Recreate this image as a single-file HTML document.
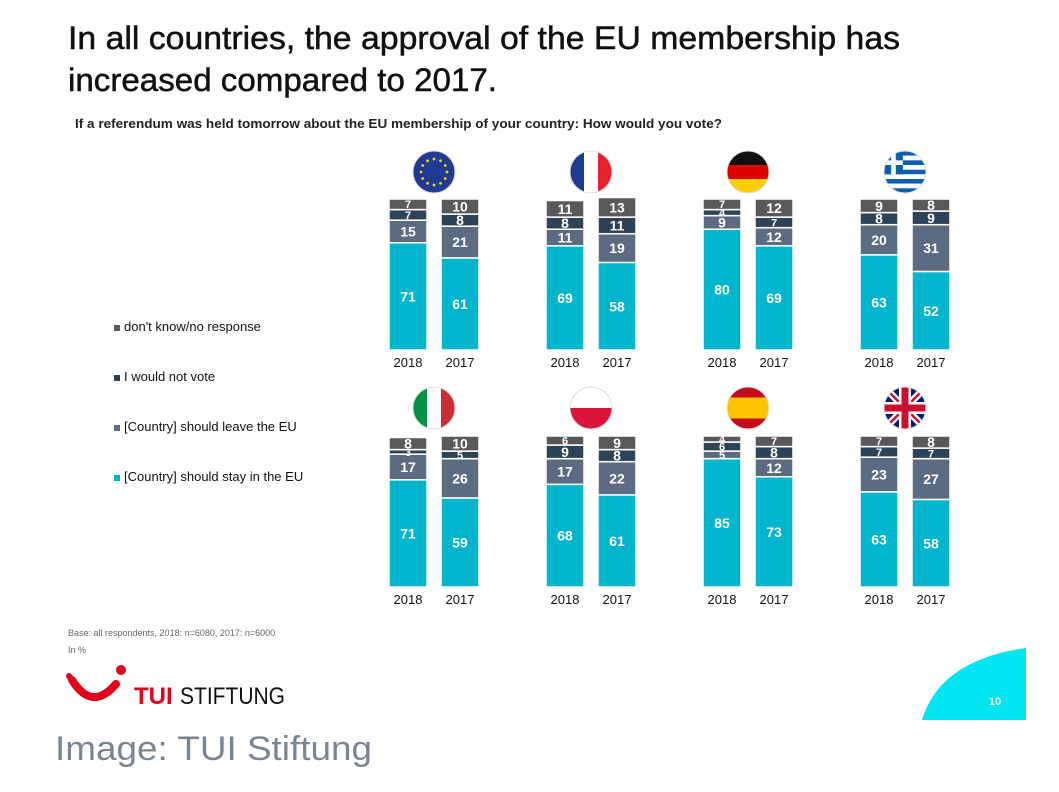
<!DOCTYPE html>
<html><head><meta charset="utf-8">
<style>
body{margin:0;background:#fff;width:1059px;height:792px;overflow:hidden;font-family:"Liberation Sans",sans-serif;}
svg{display:block}
</style></head>
<body>
<svg id="chart" width="1059" height="792" viewBox="0 0 1059 792">
<text x="68" y="49" font-size="32" fill="#111" textLength="832" lengthAdjust="spacingAndGlyphs" stroke="#111" stroke-width="0.5">In all countries, the approval of the EU membership has</text>
<text x="68" y="91" font-size="32" fill="#111" textLength="429" lengthAdjust="spacingAndGlyphs" stroke="#111" stroke-width="0.5">increased compared to 2017.</text>
<text x="75" y="128" font-size="12.5" font-weight="bold" fill="#222" textLength="647" lengthAdjust="spacingAndGlyphs">If a referendum was held tomorrow about the EU membership of your country: How would you vote?</text>
<g id="legend"></g>
<g id="bars"></g>
<g id="flags"></g>
<text x="68" y="636" font-size="9" fill="#666">Base: all respondents, 2018: n=6080, 2017: n=6000</text>
<text x="68" y="653" font-size="9" fill="#666">In %</text>
<g>
<path d="M72 680 Q92 712 116 684" stroke="#e2001a" stroke-width="8" fill="none" stroke-linecap="round"/>
<path d="M72 680 l-3 -4" stroke="#e2001a" stroke-width="6" fill="none" stroke-linecap="round"/>
<circle cx="121" cy="670" r="5" fill="#e2001a"/>
<text x="134" y="704" font-size="24" font-weight="bold" fill="#e2001a">TUI</text>
<text x="180" y="704" font-size="24" fill="#111" textLength="105" lengthAdjust="spacingAndGlyphs">STIFTUNG</text>
</g>
<path d="M922 720 Q940 660 1026 648 L1026 720 Z" fill="#00e5f0"/>
<text x="995" y="705" font-size="11" font-weight="bold" fill="#fff" text-anchor="middle">10</text>
<text x="55" y="760" font-size="34" fill="#7a8591" textLength="317" lengthAdjust="spacingAndGlyphs">Image: TUI Stiftung</text>
</svg>
<script>
const groups=["EU","France","Germany","Greece","Italy","Poland","Spain","UK"];
const years=["2018","2017"];
const series=["[Country] should stay in the EU","[Country] should leave the EU","I would not vote","don't know/no response"];
const stay2018=[71,69,80,63,71,68,85,63];
const stay2017=[61,58,69,52,59,61,73,58];
const leave2018=[15,11,9,20,17,17,5,23];
const leave2017=[21,19,12,31,26,22,12,27];
const novote2018=[7,8,4,8,3,9,6,7];
const novote2017=[8,11,7,9,5,8,8,7];
const dk2018=[7,11,7,9,8,6,4,7];
const dk2017=[10,13,12,8,10,9,7,8];
const colors=["#00b5cc","#5b6b81","#2d4357","#59595b"];
const NS="http://www.w3.org/2000/svg";
function mk(t,a,p){const e=document.createElementNS(NS,t);for(const k in a)e.setAttribute(k,a[k]);p.appendChild(e);return e;}
const scale=v=>v*1.51;
const bars=document.getElementById('bars');
const data=[[stay2018,leave2018,novote2018,dk2018],[stay2017,leave2017,novote2017,dk2017]];
groups.forEach((g,gi)=>{
  const col=gi%4,row=Math.floor(gi/4);
  const gx=389+col*157, base=row?587:350;
  years.forEach((yr,yi)=>{
    const x=gx+yi*52;let y=base;
    for(let s=0;s<4;s++){
      const v=data[yi][s][gi];const h=scale(v);y-=h;
      const r=mk('rect',{x:x,y:y,width:38,height:h,fill:colors[s],stroke:'#fff','stroke-width':1.5},bars);
      
      
      const fs=v<8?11:14;
      const t=mk('text',{x:x+19,y:y+h/2+fs*0.36,'font-size':fs,'font-weight':'bold',fill:'#fff','text-anchor':'middle'},bars);
      t.textContent=v;
      
      
    }
    const yl=mk('text',{x:x+19,y:base+17,'font-size':13,fill:'#111','text-anchor':'middle'},bars);
    yl.textContent=yr;
    
    
  });
});
const lg=document.getElementById('legend');
const order=[3,2,1,0];
order.forEach((s,i)=>{
  const y=330+i*50;
  mk('rect',{x:114,y:y-5,width:6,height:6,fill:colors[s]},lg);
  const t=mk('text',{x:124,y:y+1,'font-size':13,fill:'#111'},lg);
  t.textContent=series[s];
  
  
});
const fl=document.getElementById('flags');
const defs=mk('defs',{},fl);
groups.forEach((g,gi)=>{
  const col=gi%4,row=Math.floor(gi/4);
  const cx=434+col*157, cy=row?408:172, r=21;
  const cp=mk('clipPath',{id:'c'+gi},defs);mk('circle',{cx:cx,cy:cy,r:r},cp);
  const gg=mk('g',{'clip-path':'url(#c'+gi+')'},fl);
  
  
  const R=(x,y,w,h,f)=>mk('rect',{x:x,y:y,width:w,height:h,fill:f},gg);
  const L=cx-r,T=cy-r,W=2*r;
  if(g=="EU"){R(L,T,W,W,'#1f3a93');for(let k=0;k<12;k++){const a=k*Math.PI/6;mk('circle',{cx:cx+13*Math.cos(a),cy:cy+13*Math.sin(a),r:1.4,fill:'#ffd500'},gg);}}
  if(g=="France"){R(L,T,W/3,W,'#1f3a93');R(L+W/3,T,W/3,W,'#fff');R(L+2*W/3,T,W/3,W,'#e8232f');}
  if(g=="Germany"){R(L,T,W,W/3,'#111');R(L,T+W/3,W,W/3,'#dd0000');R(L,T+2*W/3,W,W/3,'#ffce00');}
  if(g=="Greece"){for(let k=0;k<9;k++)R(L,T+k*W/9,W,W/9,k%2?'#fff':'#0d5eaf');R(L,T,W*0.45,W*5/9,'#0d5eaf');R(L,T+2*W/9,W*0.45,W/9,'#fff');R(L+W*0.45/2-W/18,T,W/9,W*5/9,'#fff');}
  if(g=="Italy"){R(L,T,W/3,W,'#009246');R(L+W/3,T,W/3,W,'#fff');R(L+2*W/3,T,W/3,W,'#ce2b37');}
  if(g=="Poland"){R(L,T,W,W/2,'#fff');R(L,cy,W,W/2,'#dc143c');}
  if(g=="Spain"){R(L,T,W,W/4,'#c60b1e');R(L,T+W/4,W,W/2,'#ffc400');R(L,T+3*W/4,W,W/4,'#c60b1e');}
  if(g=="UK"){R(L,T,W,W,'#012169');mk('path',{d:`M${L} ${T}L${L+W} ${T+W}M${L+W} ${T}L${L} ${T+W}`,stroke:'#fff','stroke-width':7},gg);mk('path',{d:`M${L} ${T}L${L+W} ${T+W}M${L+W} ${T}L${L} ${T+W}`,stroke:'#c8102e','stroke-width':2.5},gg);R(cx-6,T,12,W,'#fff');R(L,cy-6,W,12,'#fff');R(cx-3.5,T,7,W,'#c8102e');R(L,cy-3.5,W,7,'#c8102e');}
  mk('circle',{cx:cx,cy:cy,r:r,fill:'none',stroke:'#ddd','stroke-width':1},fl);
});
</script>
</body></html>
